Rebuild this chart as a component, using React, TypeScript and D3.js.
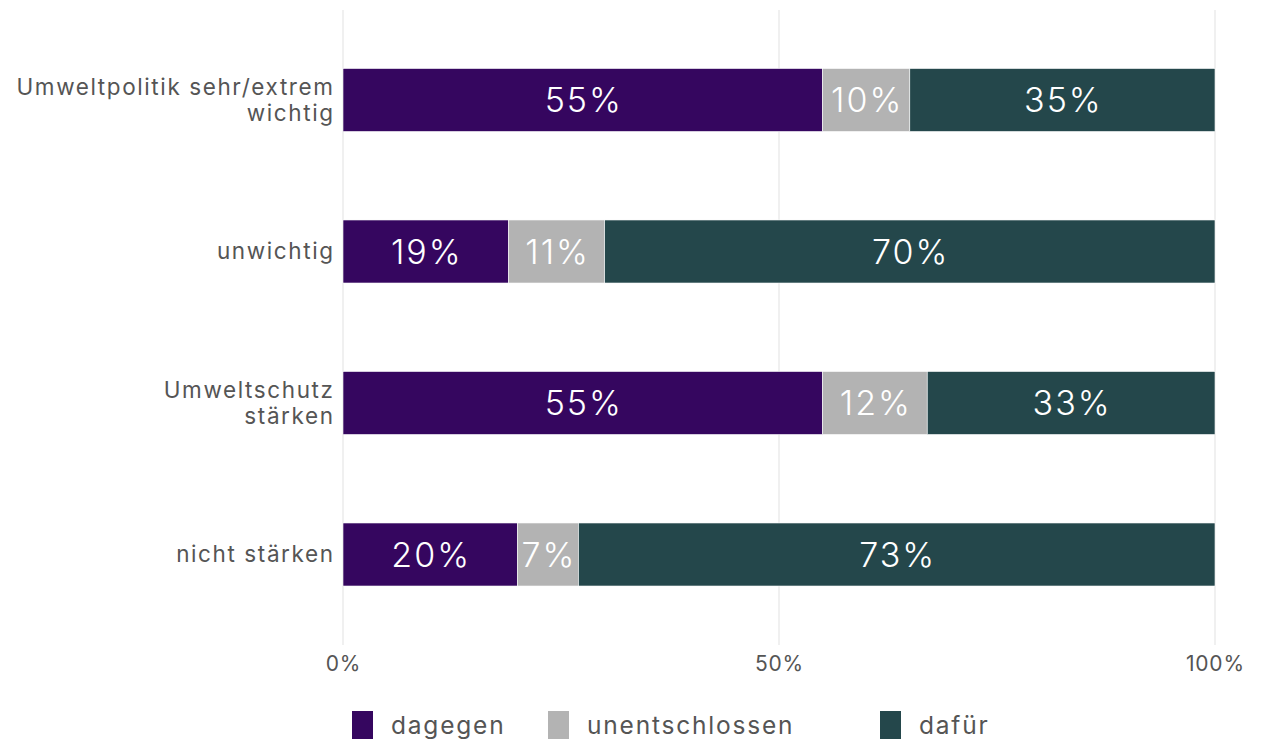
import React from "react";
import * as d3 from "d3";

const categories = ["Umweltpolitik sehr/extrem\nwichtig", "unwichtig", "Umweltschutz\nstärken", "nicht stärken"];
const seriesNames = ["dagegen", "unentschlossen", "dafür"];
const dagegen = [55, 19, 55, 20];
const unentschlossen = [10, 11, 12, 7];
const dafuer = [35, 70, 33, 73];
const xTicks = [0, 50, 100];
const colors = ["#35065f", "#b3b3b3", "#24474b"];

const W = 1264;
const H = 742;
const FONT = "Inter, 'Open Sans', sans-serif";

export default function App() {
  const x = d3.scaleLinear().domain([0, 100]).range([343, 1215]);
  const y = d3
    .scaleBand<string>()
    .domain(categories)
    .range([24.25, 630.25])
    .paddingInner(0.584)
    .paddingOuter(0.292);

  const rows = categories.map((c, i) => {
    const vals = [dagegen[i], unentschlossen[i], dafuer[i]];
    let acc = 0;
    return vals.map((v, k) => {
      const s = { cat: c, k, v, x0: acc, x1: acc + v };
      acc += v;
      return s;
    });
  });

  const legendX = [352, 548, 880];
  const barLS = 2.0;
  const labLS = 1.6;

  return (
    <svg
      width={W}
      height={H}
      style={{ position: "absolute", left: 0, top: 0, background: "#fff" }}
      fontFamily={FONT}
    >
      <rect width={W} height={H} fill="#fff" />
      {xTicks.map((t) => (
        <g key={t}>
          <line x1={x(t)} x2={x(t)} y1={10} y2={645} stroke="#e6e6e6" strokeWidth={1.2} />
          <text x={x(t) + 0.4} y={671} textAnchor="middle" fontSize={21} letterSpacing={0.8} fill="#555">
            {t}%
          </text>
        </g>
      ))}
      {rows.map((segs, i) =>
        segs.map((s) => {
          const by = y(s.cat)!;
          const bh = y.bandwidth();
          return (
            <g key={i + "-" + s.k}>
              <rect
                x={x(s.x0)}
                y={by}
                width={x(s.x1) - x(s.x0)}
                height={bh}
                fill={colors[s.k]}
                stroke="#fff"
                strokeWidth={0.6}
              />
              <text
                x={(x(s.x0) + x(s.x1)) / 2 + barLS / 2}
                y={by + bh / 2}
                dy="0.36em"
                textAnchor="middle"
                fontSize={34}
                fontWeight={300}
                letterSpacing={barLS}
                fill="#fff"
              >
                {s.v}%
              </text>
            </g>
          );
        })
      )}
      {categories.map((c) => {
        const lines = c.split("\n");
        const cy = y(c)! + y.bandwidth() / 2;
        const lh = 26;
        const start = cy - ((lines.length - 1) * lh) / 2;
        return (
          <text key={c} textAnchor="end" fontSize={22.5} letterSpacing={labLS} fill="#555">
            {lines.map((l, j) => (
              <tspan key={j} x={333 + labLS} y={start + j * lh} dy="0.35em">
                {l}
              </tspan>
            ))}
          </text>
        );
      })}
      {seriesNames.map((n, k) => (
        <g key={n}>
          <rect x={legendX[k]} y={711} width={21} height={28} fill={colors[k]} />
          <text x={legendX[k] + 39} y={725} dy="0.35em" fontSize={24.5} letterSpacing={1.8} fill="#555">
            {n}
          </text>
        </g>
      ))}
    </svg>
  );
}
